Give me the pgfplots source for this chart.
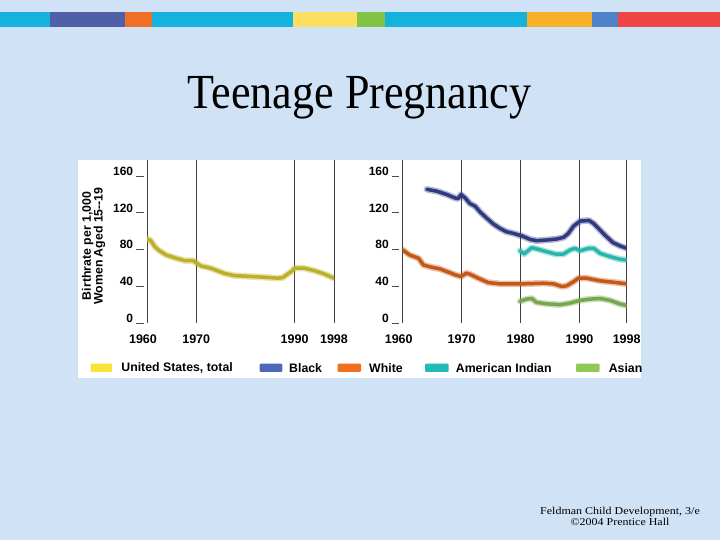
\documentclass[border=0pt]{standalone}
\usepackage{pgfplots}
\pgfplotsset{compat=1.18}
\usepackage{fontspec}
\setmainfont{Liberation Serif}
\newfontfamily\chartfont{Liberation Sans}
\newfontfamily\titlefont{Liberation Serif}[FakeStretch=0.9]
\newfontfamily\footfont{Liberation Serif}[FakeStretch=1.14]
\definecolor{bg}{RGB}{208,226,245}
\definecolor{barcyan}{RGB}{20,178,220}
\definecolor{barblue}{RGB}{80,96,168}
\definecolor{barorange}{RGB}{240,112,40}
\definecolor{baryellow}{RGB}{252,222,96}
\definecolor{bargreen}{RGB}{130,196,70}
\definecolor{baramber}{RGB}{248,176,40}
\definecolor{barblue2}{RGB}{80,130,200}
\definecolor{barred}{RGB}{238,70,70}
\definecolor{uscore}{RGB}{188,176,40}
\definecolor{blkcore}{RGB}{48,58,128}
\definecolor{whtcore}{RGB}{196,88,22}
\definecolor{aicore}{RGB}{40,182,172}
\definecolor{ascore}{RGB}{118,166,78}
\definecolor{legyellow}{RGB}{250,226,60}
\definecolor{legblue}{RGB}{76,104,182}
\definecolor{legorange}{RGB}{240,110,30}
\definecolor{legteal}{RGB}{34,186,180}
\definecolor{leggreen}{RGB}{146,200,84}
\pgfplotsset{
  panel/.style={
    scale only axis, height=163pt,
    xmin=1960, xmax=1998, ymin=0, ymax=177.4,
    axis line style={draw=none},
    xmajorgrids, grid style={black!75, line width=0.5pt},
    xtick style={draw=none},
    ytick={0,40,80,120,160}, yticklabels={0,40,80,120,160},
    ytick pos=left, tick align=outside, major tick length=7.3pt,
    ytick style={black!70, line width=0.6pt, xshift=-3.5pt},
    yticklabel style={anchor=south east, inner sep=0pt, xshift=-6.4pt, yshift=0.3pt, font=\chartfont\bfseries\fontsize{12}{12}\selectfont},
    xticklabel style={anchor=north, inner sep=0pt, yshift=-4.5pt, font=\chartfont\bfseries\fontsize{12.5}{12.5}\selectfont},
  },
  glow/.style={no marks, line width=6.5pt, opacity=0.35, line join=round, line cap=round, color=#1},
  core/.style={no marks, line width=3.5pt, line join=round, line cap=round, color=#1},
}
\begin{document}
\begin{tikzpicture}
\begin{scope}[x=1pt,y=1pt]
\fill[bg] (0,0) rectangle (720,540);
% top colour bar
\fill[barcyan]   (0,513)   rectangle (50,528);
\fill[barblue]   (50,513)  rectangle (125,528);
\fill[barorange] (125,513) rectangle (152,528);
\fill[barcyan]   (152,513) rectangle (293,528);
\fill[baryellow] (293,513) rectangle (357,528);
\fill[bargreen]  (357,513) rectangle (385,528);
\fill[barcyan]   (385,513) rectangle (527,528);
\fill[baramber]  (527,513) rectangle (592,528);
\fill[barblue2]  (592,513) rectangle (618,528);
\fill[barred]    (618,513) rectangle (720,528);
% title
\node[anchor=base, inner sep=0pt] at (359.5,431.7) {\titlefont\fontsize{49}{49}\selectfont Teenage Pregnancy};
% chart box
\fill[white] (78,162) rectangle (641,380);
% y label
\node[rotate=90, align=center, inner sep=0pt, font=\chartfont\bfseries\fontsize{12.3}{11.7}\selectfont] at (93.5,294) {Birthrate per 1,000\\Women Aged 15--19};
% legend
\begin{scope}[every node/.style={anchor=west, inner sep=0pt, font=\chartfont\bfseries\fontsize{12.3}{12}\selectfont}]
\fill[legyellow, rounded corners=1pt] (90.6,168) rectangle (112.2,176.3);
\node at (121.2,171.8) {United States, total};
\fill[legblue, rounded corners=1pt] (259.6,168) rectangle (282.3,176.3);
\node at (289,171.8) {Black};
\fill[legorange, rounded corners=1pt] (337.7,168) rectangle (361,176.3);
\node at (369,171.8) {White};
\fill[legteal, rounded corners=1pt] (425,168) rectangle (448.5,176.3);
\node at (455.7,171.8) {American Indian};
\fill[leggreen, rounded corners=1pt] (576,168) rectangle (599.6,176.3);
\node at (608.6,171.8) {Asian};
\end{scope}
% footer
\node[inner sep=0pt, anchor=base, font=\footfont\fontsize{10.5}{10.5}\selectfont] at (620,25.5) {Feldman Child Development, 3/e};
\node[inner sep=0pt, anchor=base, font=\footfont\fontsize{10.5}{10.5}\selectfont] at (620,14) {\textcopyright 2004 Prentice Hall};
\end{scope}

% left panel
\begin{axis}[panel, at={(147pt,217pt)}, anchor=south west, width=187pt,
  xtick={1960,1970,1990,1998}, xticklabels={\hspace*{-8pt}1960,1970,1990,1998}]
\addplot[glow=uscore] coordinates {(1960,91.4) (1960.7,90) (1961.6,83) (1962.5,78.7) (1963.9,74) (1965.6,71) (1967.6,68) (1969.3,68) (1970,65.5) (1971,62) (1973,59.6) (1975.7,54) (1977.7,51.6) (1981.1,50.6) (1983.8,49.8) (1986.6,48.8) (1987.6,49.5) (1989.3,56) (1990,59.6) (1992,59.6) (1994,57) (1996,53.4) (1998,48.8)};
\addplot[core=uscore] coordinates {(1960,91.4) (1960.7,90) (1961.6,83) (1962.5,78.7) (1963.9,74) (1965.6,71) (1967.6,68) (1969.3,68) (1970,65.5) (1971,62) (1973,59.6) (1975.7,54) (1977.7,51.6) (1981.1,50.6) (1983.8,49.8) (1986.6,48.8) (1987.6,49.5) (1989.3,56) (1990,59.6) (1992,59.6) (1994,57) (1996,53.4) (1998,48.8)};
\end{axis}

% right panel
\begin{axis}[panel, at={(402.7pt,217pt)}, anchor=south west, width=224pt,
  xtick={1960,1970,1980,1990,1998}, xticklabels={\hspace*{-8pt}1960,1970,1980,1990,1998}]
% Black
\addplot[glow=blkcore] coordinates {(1964.1,145.5) (1965.8,143.4) (1967.5,139.8) (1968.9,136) (1969.4,135.4) (1969.9,139.8) (1970.6,136) (1971.4,130) (1972.3,127) (1973.1,121) (1974.3,113.8) (1975.4,107.6) (1976.5,103) (1977.6,99.3) (1978.8,97.5) (1980.3,94.6) (1981.6,91) (1982.7,89.6) (1984.4,90.3) (1986.1,91.4) (1987.3,93.2) (1988.1,97.5) (1989,105.5) (1990.1,110.9) (1991.6,111.6) (1992.4,108.3) (1993.5,101) (1994.6,93.9) (1995.7,87.4) (1996.9,83.8) (1998,81.3)};
\addplot[core=blkcore] coordinates {(1964.1,145.5) (1965.8,143.4) (1967.5,139.8) (1968.9,136) (1969.4,135.4) (1969.9,139.8) (1970.6,136) (1971.4,130) (1972.3,127) (1973.1,121) (1974.3,113.8) (1975.4,107.6) (1976.5,103) (1977.6,99.3) (1978.8,97.5) (1980.3,94.6) (1981.6,91) (1982.7,89.6) (1984.4,90.3) (1986.1,91.4) (1987.3,93.2) (1988.1,97.5) (1989,105.5) (1990.1,110.9) (1991.6,111.6) (1992.4,108.3) (1993.5,101) (1994.6,93.9) (1995.7,87.4) (1996.9,83.8) (1998,81.3)};
% White
\addplot[glow=whtcore] coordinates {(1960,79.5) (1961.2,74) (1962.7,70.4) (1963.5,63.2) (1964.9,60.7) (1966.3,58.9) (1967.5,56) (1968.9,52.4) (1969.9,50.6) (1970.8,54.2) (1971.4,53.1) (1972.8,48.8) (1974.5,44) (1976.5,42.6) (1980.3,42.6) (1983.9,43.3) (1985.6,42.6) (1987,39.7) (1987.8,40.4) (1989,45) (1989.8,48.8) (1991.2,48.8) (1993.5,45.9) (1995.7,44.4) (1998,42.6)};
\addplot[core=whtcore] coordinates {(1960,79.5) (1961.2,74) (1962.7,70.4) (1963.5,63.2) (1964.9,60.7) (1966.3,58.9) (1967.5,56) (1968.9,52.4) (1969.9,50.6) (1970.8,54.2) (1971.4,53.1) (1972.8,48.8) (1974.5,44) (1976.5,42.6) (1980.3,42.6) (1983.9,43.3) (1985.6,42.6) (1987,39.7) (1987.8,40.4) (1989,45) (1989.8,48.8) (1991.2,48.8) (1993.5,45.9) (1995.7,44.4) (1998,42.6)};
% American Indian
\addplot[glow=aicore] coordinates {(1979.9,78.7) (1980.6,75.1) (1981.2,78.4) (1981.9,82) (1983,80.2) (1984.4,77.6) (1986.1,74.8) (1987.3,75.1) (1988.4,79.5) (1989.2,81.3) (1990.1,78.7) (1991.6,81.3) (1992.4,81.3) (1993.5,75.8) (1995.2,72.2) (1996.9,69.3) (1998,68.6)};
\addplot[core=aicore] coordinates {(1979.9,78.7) (1980.6,75.1) (1981.2,78.4) (1981.9,82) (1983,80.2) (1984.4,77.6) (1986.1,74.8) (1987.3,75.1) (1988.4,79.5) (1989.2,81.3) (1990.1,78.7) (1991.6,81.3) (1992.4,81.3) (1993.5,75.8) (1995.2,72.2) (1996.9,69.3) (1998,68.6)};
% Asian
\addplot[glow=ascore] coordinates {(1979.9,23.5) (1981,26) (1981.9,26.7) (1982.7,22.4) (1984.4,20.9) (1986.7,19.9) (1988.4,21.7) (1990.1,24.6) (1991.8,26) (1993.5,26.7) (1995.2,24.6) (1996.9,20.6) (1998,19.1)};
\addplot[core=ascore] coordinates {(1979.9,23.5) (1981,26) (1981.9,26.7) (1982.7,22.4) (1984.4,20.9) (1986.7,19.9) (1988.4,21.7) (1990.1,24.6) (1991.8,26) (1993.5,26.7) (1995.2,24.6) (1996.9,20.6) (1998,19.1)};
\end{axis}
\end{tikzpicture}
\end{document}
